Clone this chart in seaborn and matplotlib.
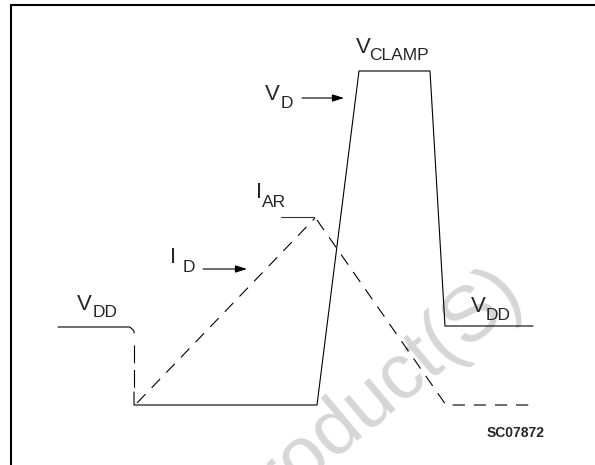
import numpy as np
import pandas as pd
import matplotlib
matplotlib.use('Agg')
import matplotlib.pyplot as plt
import seaborn as sns

        #waveform vertices (diagram units, y grows downwards)

vd_left_t = [58, 130, 134, 134]
vd_left_v = [327, 327, 331, 333]
vd_gap_t = [134, 134]
vd_gap_v = [345, 391]
vd_t = [134, 134, 317, 359, 430, 445, 533]
vd_v = [392, 405, 405, 71, 71, 326, 326]

id_up_t = [137, 315]
id_up_v = [403, 218]
id_down_t = [317, 446, 530]
id_down_v = [220, 405, 405]

iar_t = [281, 314]
iar_v = [217, 217]

        #labels: main letter, subscript, anchor of main, anchor of subscript

lab_main = ['V', 'V', 'V', 'V', 'I', 'I']
lab_sub = ['DD', 'DD', 'D', 'CLAMP', 'D', 'AR']
lab_xy = [(77, 310), (471, 312), (265, 100), (356, 53), (170, 263), (256, 198)]
lab_sub_xy = [(93, 317), (486, 320), (281, 108), (369, 60), (183, 272), (262, 207)]

arrow_from = [(302, 98), (203, 269)]
arrow_to = [(344, 98), (247, 269)]

fig_code = 'SC07872'
watermark = 'Product(S)'

sns.set_style('white')
plt.rcParams['font.family'] = ['Liberation Sans', 'DejaVu Sans']

fig = plt.figure(figsize=(5.95, 4.65), dpi=100)
ax = fig.add_axes([0, 0, 1, 1])
ax.set_xlim(0, 595)
ax.set_ylim(465, 0)
ax.axis('off')

# faint watermark behind everything (cut by the lower edge, as in the source)
ax.text(240, 535, watermark, fontsize=56, color='#d6d6d6', rotation=40,
        rotation_mode='anchor', ha='left', va='baseline', zorder=0)

# frame: top and left only
ax.plot([11, 595], [5, 5], color='black', lw=1.5)
ax.plot([11, 11], [5, 465], color='black', lw=1.5)

lw = 0.8
dash = (0, (11, 8))

sns.lineplot(x=vd_left_t, y=vd_left_v, sort=False, estimator=None, color='black', lw=lw, ax=ax)
sns.lineplot(x=vd_gap_t, y=vd_gap_v, sort=False, estimator=None, color='black', lw=lw,
             linestyle=(0, (16, 6)), ax=ax)
sns.lineplot(x=vd_t, y=vd_v, sort=False, estimator=None, color='black', lw=lw, ax=ax)
sns.lineplot(x=id_up_t, y=id_up_v, sort=False, estimator=None, color='black', lw=lw,
             linestyle=dash, ax=ax)
sns.lineplot(x=id_down_t, y=id_down_v, sort=False, estimator=None, color='black', lw=lw,
             linestyle=dash, ax=ax)
sns.lineplot(x=iar_t, y=iar_v, sort=False, estimator=None, color='#333333', lw=lw, ax=ax)

for m, s, p, q in zip(lab_main, lab_sub, lab_xy, lab_sub_xy):
    ax.text(p[0], p[1], m, fontsize=16, ha='left', va='baseline')
    ax.text(q[0], q[1], s, fontsize=12.5, ha='left', va='baseline')

for a, b in zip(arrow_from, arrow_to):
    ax.annotate('', xy=b, xytext=a,
                arrowprops=dict(arrowstyle='-|>,head_length=0.7,head_width=0.22',
                                color='black', lw=0.8, shrinkA=0, shrinkB=0))

ax.text(487, 437, fig_code, fontsize=10, fontweight='bold', ha='left', va='baseline')

plt.savefig('out.png', dpi=100)
